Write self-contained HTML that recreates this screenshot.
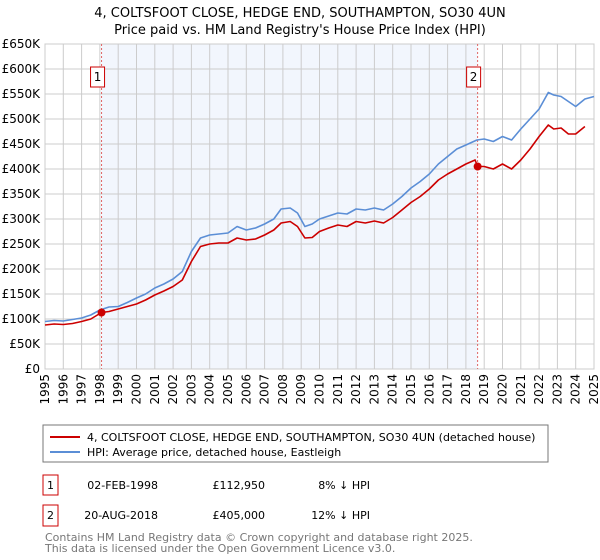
<!DOCTYPE html>
<html><head><meta charset="utf-8"><style>
body{margin:0;background:#fff;width:600px;height:560px;overflow:hidden;font-family:"DejaVu Sans","Liberation Sans",sans-serif;}
svg{display:block}
</style></head><body>
<svg id="chart" width="600" height="560" xmlns="http://www.w3.org/2000/svg">
<text x="300" y="17" text-anchor="middle" font-size="13">4, COLTSFOOT CLOSE, HEDGE END, SOUTHAMPTON, SO30 4UN</text>
<text x="300" y="34" text-anchor="middle" font-size="13">Price paid vs. HM Land Registry's House Price Index (HPI)</text>
<g id="plot"></g>
<rect x="43" y="425" width="505" height="37" fill="#fff" stroke="#777"/>
<line x1="50" y1="437" x2="80" y2="437" stroke="#cc0000" stroke-width="2"/>
<text x="87" y="441" font-size="11">4, COLTSFOOT CLOSE, HEDGE END, SOUTHAMPTON, SO30 4UN (detached house)</text>
<line x1="50" y1="452" x2="80" y2="452" stroke="#5b8ed6" stroke-width="2"/>
<text x="87" y="456" font-size="11">HPI: Average price, detached house, Eastleigh</text>
<g>
<rect x="43" y="475" width="15" height="20" fill="#fff" stroke="#cc0000"/>
<text x="50.5" y="489" text-anchor="middle" font-size="11">1</text>
<text x="158" y="489" text-anchor="end" font-size="11">02-FEB-1998</text>
<text x="265" y="489" text-anchor="end" font-size="11">£112,950</text>
<text x="370" y="489" text-anchor="end" font-size="11">8% ↓ HPI</text>
</g>
<g>
<rect x="43" y="505" width="15" height="21" fill="#fff" stroke="#cc0000"/>
<text x="50.5" y="519" text-anchor="middle" font-size="11">2</text>
<text x="158" y="519" text-anchor="end" font-size="11">20-AUG-2018</text>
<text x="265" y="519" text-anchor="end" font-size="11">£405,000</text>
<text x="370" y="519" text-anchor="end" font-size="11">12% ↓ HPI</text>
</g>
<text x="45" y="541" font-size="11" fill="#777">Contains HM Land Registry data © Crown copyright and database right 2025.</text>
<text x="45" y="552" font-size="11" fill="#777">This data is licensed under the Open Government Licence v3.0.</text>
</svg>
<script>
const hpiYears=[1995,1995.5,1996,1996.5,1997,1997.5,1998,1998.5,1999,1999.5,2000,2000.5,2001,2001.5,2002,2002.5,2003,2003.5,2004,2004.5,2005,2005.5,2006,2006.5,2007,2007.5,2007.9,2008.4,2008.8,2009.2,2009.6,2010,2010.5,2011,2011.5,2012,2012.5,2013,2013.5,2014,2014.5,2015,2015.5,2016,2016.5,2017,2017.5,2018,2018.6,2019,2019.5,2020,2020.5,2021,2021.5,2022,2022.5,2022.8,2023.2,2023.6,2024,2024.5,2025];
const hpiValues=[95,97,96,99,102,108,118,124,125,133,142,150,162,170,180,195,235,262,268,270,272,285,278,282,290,300,320,322,312,285,290,300,306,312,310,320,318,322,318,330,345,362,375,390,410,425,440,448,458,460,455,465,458,480,500,520,553,548,545,535,525,540,545];
const saleYears=[1995,1995.5,1996,1996.5,1997,1997.5,1998.09,1998.5,1999,1999.5,2000,2000.5,2001,2001.5,2002,2002.5,2003,2003.5,2004,2004.5,2005,2005.5,2006,2006.5,2007,2007.5,2007.9,2008.4,2008.8,2009.2,2009.6,2010,2010.5,2011,2011.5,2012,2012.5,2013,2013.5,2014,2014.5,2015,2015.5,2016,2016.5,2017,2017.5,2018,2018.5,2018.64,2019,2019.5,2020,2020.5,2021,2021.5,2022,2022.5,2022.8,2023.2,2023.6,2024,2024.5,2025];
const saleValues=[88,90,89,91,95,100,112.95,115,120,125,130,138,148,156,165,178,215,245,250,252,252,262,258,260,268,278,292,295,285,262,263,275,282,288,285,295,292,296,292,303,318,333,345,360,378,390,400,410,418,405,405,400,410,400,418,440,465,488,480,482,470,470,485];
const yTicks=[0,50,100,150,200,250,300,350,400,450,500,550,600,650];
const yTickLabels=["£0","£50K","£100K","£150K","£200K","£250K","£300K","£350K","£400K","£450K","£500K","£550K","£600K","£650K"];
const xTicks=[1995,1996,1997,1998,1999,2000,2001,2002,2003,2004,2005,2006,2007,2008,2009,2010,2011,2012,2013,2014,2015,2016,2017,2018,2019,2020,2021,2022,2023,2024,2025];
const saleMarkYears=[1998.09,2018.64];
const saleMarkValues=[112.95,405];
const saleMarkLabels=["1","2"];

const L=45,R=594,T=44,B=369,NS="http://www.w3.org/2000/svg";
const xs=y=>L+(y-1995)/30*(R-L);
const ys=v=>B-v/650*(B-T);
const g=document.getElementById('plot');
function mk(t,a,p){const e=document.createElementNS(NS,t);for(const k in a)e.setAttribute(k,a[k]);(p||g).appendChild(e);return e;}
let bg=mk('rect',{x:L,y:T,width:R-L,height:B-T,fill:'#fff'});


let sh=mk('rect',{x:xs(saleMarkYears[0]),y:T,width:xs(saleMarkYears[1])-xs(saleMarkYears[0]),height:B-T,fill:'#f2f6fd'});


yTicks.forEach((v,i)=>{
 let l=mk('line',{x1:L,x2:R,y1:ys(v),y2:ys(v),stroke:'#ccc','stroke-width':1});
 
 
 let t=mk('text',{x:40,y:ys(v)+4,'text-anchor':'end','font-size':12});
 t.textContent=yTickLabels[i];
 
 
});
xTicks.forEach(y=>{
 let l=mk('line',{x1:xs(y),x2:xs(y),y1:T,y2:B,stroke:'#ccc','stroke-width':1});
 
 
 let t=mk('text',{x:0,y:0,'text-anchor':'end','font-size':12,transform:'translate('+(xs(y)+4).toFixed(1)+',374) rotate(-90)'});
 t.textContent=String(y);
 
 
});
let ax=mk('rect',{x:L,y:T,width:R-L,height:B-T,fill:'none',stroke:'#ccc'});


saleMarkYears.forEach((y,i)=>{
 let l=mk('line',{x1:xs(y),x2:xs(y),y1:T,y2:B,stroke:'#e06666','stroke-dasharray':'2,2'});
 
 
});
function path(xa,va,col,name){
 let d=xa.map((y,i)=>(i?'L':'M')+xs(y).toFixed(1)+','+ys(va[i]).toFixed(1)).join('');
 let p=mk('path',{d:d,fill:'none',stroke:col,'stroke-width':1.6,'stroke-linejoin':'round'});
 
 
}
path(hpiYears,hpiValues,'#5b8ed6','hpi-line');
path(saleYears,saleValues,'#cc0000','property-price-line');
saleMarkYears.forEach((y,i)=>{
 let c=mk('circle',{cx:xs(y),cy:ys(saleMarkValues[i]),r:4,fill:'#cc0000'});
 
 
 let r=mk('rect',{x:xs(y)-11,y:67,width:14,height:20,fill:'#fff',stroke:'#cc0000'});
 
 
 let t=mk('text',{x:xs(y)-4,y:81,'text-anchor':'middle','font-size':12});
 t.textContent=saleMarkLabels[i];
 
 
});
</script>
</body></html>
